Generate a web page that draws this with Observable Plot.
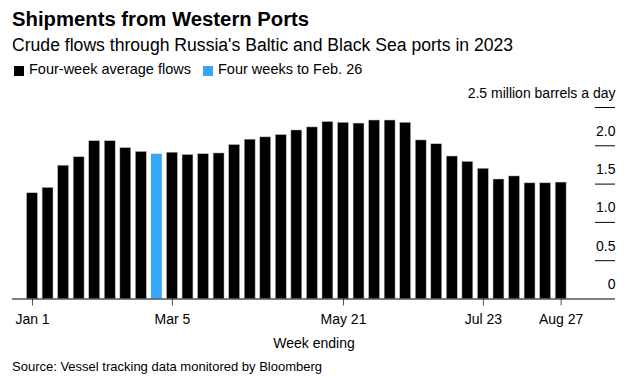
<!DOCTYPE html>
<html>
<head>
<meta charset="utf-8">
<script src="https://cdn.jsdelivr.net/npm/d3@7"></script>
<script src="https://cdn.jsdelivr.net/npm/@observablehq/plot@0.6"></script>
<style>
  html, body { margin: 0; padding: 0; background: #fff; }
  body { width: 628px; height: 383px; position: relative; overflow: hidden;
         font-family: "Liberation Sans", Arial, Helvetica, sans-serif; color: #000; }
  .abs { position: absolute; white-space: nowrap; }
  #title { left: 12px; top: 9px; font-size: 20.3px; line-height: 20px; font-weight: bold; }
  #subtitle { left: 12px; top: 36.9px; font-size: 17.6px; line-height: 17.5px; }
  .sw { position: absolute; width: 10px; height: 10px; top: 65.5px; }
  .lg { top: 61.7px; font-size: 14.5px; line-height: 14.5px; }
  #source { left: 12px; top: 360px; font-size: 13px; line-height: 13px; }
  #chart { position: absolute; left: 0; top: 84px; }
</style>
</head>
<body>
<div id="title" class="abs">Shipments from Western Ports</div>
<div id="subtitle" class="abs">Crude flows through Russia's Baltic and Black Sea ports in 2023</div>
<div class="sw" style="left:14px;background:#000"></div>
<div class="abs lg" style="left:29px">Four-week average flows</div>
<div class="sw" style="left:203px;background:#36a6fb"></div>
<div class="abs lg" style="left:218px">Four weeks to Feb. 26</div>
<div id="chart"></div>
<div id="source" class="abs">Source: Vessel tracking data monitored by Bloomberg</div>
<script>
// Week-ending dates (2023)
const weeks = [
  "Jan 1","Jan 8","Jan 15","Jan 22","Jan 29",
  "Feb 5","Feb 12","Feb 19","Feb 26",
  "Mar 5","Mar 12","Mar 19","Mar 26",
  "Apr 2","Apr 9","Apr 16","Apr 23","Apr 30",
  "May 7","May 14","May 21","May 28",
  "Jun 4","Jun 11","Jun 18","Jun 25",
  "Jul 2","Jul 9","Jul 16","Jul 23","Jul 30",
  "Aug 6","Aug 13","Aug 20","Aug 27"
];
// Four-week average crude flows, million barrels a day
const flows = [
  1.38,1.45,1.74,1.85,2.06,
  2.06,1.97,1.92,1.89,
  1.91,1.88,1.89,1.90,
  2.01,2.08,2.11,2.14,2.20,
  2.24,2.31,2.30,2.29,
  2.33,2.33,2.30,2.07,
  2.02,1.86,1.79,1.70,1.56,
  1.60,1.51,1.51,1.52
];
const highlightWeek = "Feb 26";
const xTickLabels = ["Jan 1","Mar 5","May 21","Jul 23","Aug 27"];
const yTicks = [0, 0.5, 1.0, 1.5, 2.0, 2.5];
const yTickLabels = ["0","0.5","1.0","1.5","2.0","2.5 million barrels a day"];

const data = weeks.map((w, i) => ({week: w, value: flows[i]}));

const chart = Plot.plot({
  width: 628,
  height: 270,
  marginLeft: 12,
  marginRight: 13,
  marginTop: 23,
  marginBottom: 55.5,
  style: {fontFamily: '"Liberation Sans", Arial, Helvetica, sans-serif', fontSize: "14px", color: "#000", background: "transparent"},
  x: {type: "band", domain: weeks, range: [26.56, 566.1], paddingInner: 0.3, paddingOuter: 0, align: 0, round: false},
  y: {domain: [0, 2.5], range: [214.5, 23], axis: null},
  marks: [
    Plot.barY(data.filter(d => d.week !== highlightWeek), {x: "week", y: "value", fill: "#000", stroke: "#bbb", strokeWidth: 0.5}),
    Plot.barY(data.filter(d => d.week === highlightWeek), {x: "week", y: "value", fill: "#36a6fb"}),
    Plot.ruleY(yTicks.filter(t => t > 0), {y: d => d, insetLeft: 583, stroke: "#000", strokeWidth: 1}),
    Plot.text(yTicks, {y: d => d, text: (d, i) => yTickLabels[i], frameAnchor: "right", textAnchor: "end", lineAnchor: "bottom", dy: -10, fontSize: 14, fill: "#000"}),
    Plot.axisX(xTickLabels, {anchor: "bottom", tickSize: 7, tickPadding: 8.5, stroke: "#555", fill: "#000", fontSize: 14, label: "Week ending", labelAnchor: "center", labelArrow: "none", labelOffset: 48.5}),
    Plot.ruleY([0], {stroke: "#000", strokeWidth: 1})
  ]
});
document.getElementById("chart").appendChild(chart);
</script>
</body>
</html>
